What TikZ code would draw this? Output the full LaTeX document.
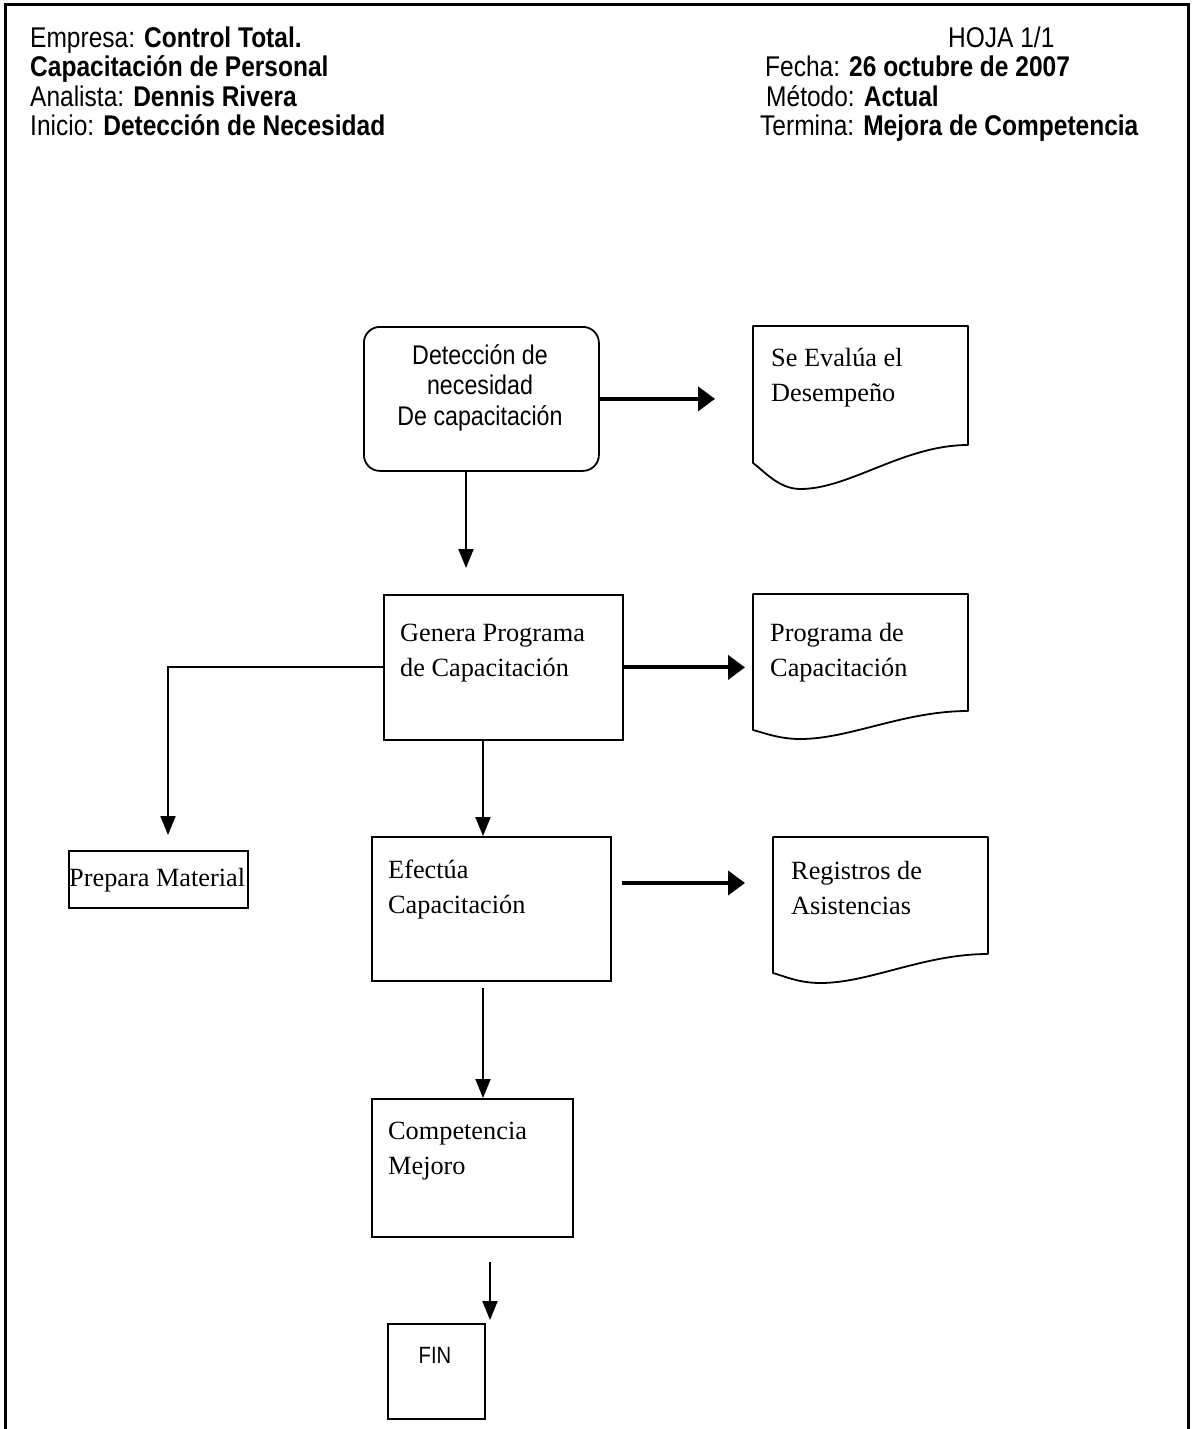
\documentclass[tikz,border=0pt]{standalone}
\usepackage{fontspec}
\setmainfont{Liberation Serif}
\newfontfamily\narrowsans[FakeStretch=0.86]{Liberation Sans}
\usetikzlibrary{arrows.meta}

% text settings
\newcommand\hdrfont{\narrowsans\fontsize{28.5}{29}\selectfont}
\newcommand\procfont{\rmfamily\fontsize{26.3}{35}\selectfont}
\newcommand\startfont{\narrowsans\fontsize{27}{30.5}\selectfont}
\newcommand\finfont{\narrowsans\fontsize{23.5}{26}\selectfont}

% document symbol: left, top, right, right-end y, lowest y, left-end y
\newcommand\docpath[6]{%
  \draw[line width=1.8pt, line join=round] (#1,#2) -- (#3,#2) -- (#3,#4)
    .. controls ({#3-0.3*(#3-#1)},#4) and ({#1+0.45*(#3-#1)},#5) .. ({#1+0.22*(#3-#1)},#5)
    .. controls ({#1+0.12*(#3-#1)},#5) and ({#1+0.05*(#3-#1)},{#6+0.3*(#5-#6)}) .. (#1,#6) -- cycle;}

\begin{document}
\begin{tikzpicture}[x=1pt, y=-1pt,
  pageframe/.style={line width=3pt},
  boxline/.style={draw, line width=1.8pt, inner sep=0pt, anchor=north west},
  txt/.style={anchor=base west, inner sep=0pt},
  flow/.style={line width=2pt, -{Triangle[length=19pt,width=15pt]}},
  outflow/.style={line width=4pt, -{Triangle[length=17pt,width=24pt]}}]

\useasboundingbox (0,0) rectangle (1193,1429);

% page frame (open at the bottom)
\draw[pageframe] (5,1429) -- (5,5) -- (1188,5) -- (1188,1429);

% header
\node[txt] (hempresa) at (30,48)  {\hdrfont Empresa: \textbf{Control Total.}};
\node[txt] (hproc)    at (30,77)  {\hdrfont\textbf{Capacitación de Personal}};
\node[txt] (hanal)    at (30,106) {\hdrfont Analista: \textbf{Dennis Rivera}};
\node[txt] (hinicio)  at (30,135) {\hdrfont Inicio: \textbf{Detección de Necesidad}};
\node[txt] (hhoja)    at (948,48) {\hdrfont HOJA 1/1};
\node[txt] (hfecha)   at (765,77) {\hdrfont Fecha: \textbf{26 octubre de 2007}};
\node[txt] (hmetodo)  at (766,106) {\hdrfont Método: \textbf{Actual}};
\node[txt] (htermina) at (760,135) {\hdrfont Termina: \textbf{Mejora de Competencia}};

% process boxes
\node[boxline, rounded corners=16pt, minimum width=235pt, minimum height=144pt] (start) at (363,326) {};
\node[anchor=base, inner sep=0pt] (starttext) at (480,364)
  {\parbox[t]{220pt}{\centering\startfont Detección de\\necesidad\\De capacitación}};

\node[boxline, minimum width=239pt, minimum height=145pt] (gen) at (383,594) {};
\node[txt] (gentext) at (400,641) {\parbox[t]{220pt}{\procfont Genera Programa\\de Capacitación}};

\node[boxline, minimum width=239pt, minimum height=144pt] (eff) at (371,836) {};
\node[txt] (efftext) at (388,878) {\parbox[t]{220pt}{\procfont Efectúa\\Capacitación}};

\node[boxline, minimum width=201pt, minimum height=138pt] (comp) at (371,1098) {};
\node[txt] (comptext) at (388,1139) {\parbox[t]{180pt}{\procfont Competencia\\Mejoro}};

\node[boxline, minimum width=179pt, minimum height=57pt] (prep) at (68,850) {};
\node[txt] (preptext) at (69,886) {\procfont Prepara Material};

\node[boxline, minimum width=97pt, minimum height=95pt] (fin) at (387,1323) {};
\node[anchor=base, inner sep=0pt] (fintext) at (435,1363) {\finfont FIN};

% documents
\docpath{753}{326}{968}{445}{489}{463}
\node[txt] (doc1) at (771,366) {\parbox[t]{190pt}{\procfont Se Evalúa el\\Desempeño}};
\docpath{753}{594}{968}{711}{739}{730}
\node[txt] (doc2) at (770,641) {\parbox[t]{190pt}{\procfont Programa de\\Capacitación}};
\docpath{773}{837}{988}{954}{983}{973}
\node[txt] (doc3) at (791,879) {\parbox[t]{190pt}{\procfont Registros de\\Asistencias}};

% connectors
\coordinate (a1) at (466,568);
\draw[flow] (start.south -| a1) -- (a1);
\coordinate (a2) at (715,0);
\draw[outflow] (start.east) -- (start.east -| a2);
\coordinate (a3) at (745,0);
\draw[outflow] (gen.east) -- (gen.east -| a3);
\coordinate (a4) at (168,835);
\draw[flow] (gen.west) -| (a4);
\coordinate (a5) at (483,0);
\draw[flow] (gen.south -| a5) -- (eff.north -| a5);
\coordinate (a6) at (622,883);
\coordinate (a7) at (745,883);
\draw[outflow] (a6) -- (a7);
\coordinate (a8) at (483,988);
\draw[flow] (a8) -- (a8 |- comp.north);
\coordinate (a9) at (490,1262);
\coordinate (a10) at (490,1320);
\draw[flow] (a9) -- (a10);

\end{tikzpicture}
\end{document}
